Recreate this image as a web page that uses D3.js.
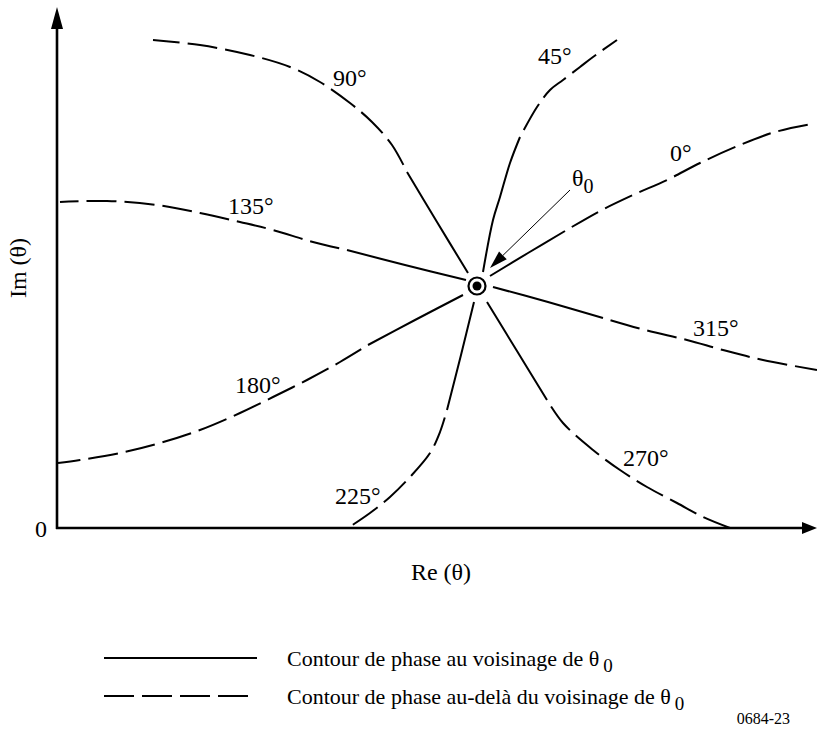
<!DOCTYPE html>
<html>
<head>
<meta charset="utf-8">
<script src="https://cdn.jsdelivr.net/npm/d3@7"></script>
<style>
  body { margin: 0; background: #fff; }
  text { font-family: "Liberation Serif", "Times New Roman", serif; fill: #000; }
</style>
</head>
<body>
<div class="chart"></div>
<script>
// Phase contours around theta0 in the (Re, Im) plane

// phase of each contour, same order as the point lists below
var phases = ["0°", "45°", "90°", "135°", "180°", "225°", "270°", "315°"];

// the point theta0
var theta0 = [420, 242];

// contour points close to theta0 (drawn solid), [Re, Im]
var nearContours = [
  [[433, 252], [471, 275], [508, 297]],
  [[426, 256], [436, 308], [443, 331], [453, 365], [463, 391]],
  [[411, 255], [380, 306], [350, 356]],
  [[409, 248], [348, 263], [290, 278]],
  [[406, 233], [358, 208], [311, 183]],
  [[417, 226], [404, 173], [390, 118]],
  [[430, 226], [460, 177], [490, 128]],
  [[436, 241], [491, 226], [546, 210]]
];

// contour points further out (drawn dashed), [Re, Im]
var farContours = [
  [[508, 297], [543, 317], [576, 333], [610, 348], [643, 365], [683, 383], [718, 396], [755, 404]],
  [[463, 391], [480, 421], [493, 438], [506, 448], [523, 461], [536, 471], [560, 488]],
  [[350, 356], [335, 383], [315, 406], [293, 425], [263, 446], [233, 461], [193, 473], [143, 483], [96, 488]],
  [[290, 278], [256, 286], [216, 298], [183, 306], [143, 315], [100, 323], [50, 327], [3, 326]],
  [[311, 183], [283, 166], [250, 148], [216, 131], [183, 115], [143, 98], [103, 85], [63, 75], [23, 68], [1, 65]],
  [[390, 118], [383, 96], [373, 75], [353, 51], [333, 31], [313, 15], [291, 0]],
  [[490, 128], [506, 105], [536, 78], [563, 58], [590, 41], [620, 25], [646, 11], [673, 0]],
  [[546, 210], [588, 198], [630, 188], [666, 178], [706, 168], [760, 158]]
];

// where each phase label sits, [Re, Im]
var labelAnchors = [[613, 367], [481, 464], [276, 442], [171, 314], [178, 135], [278, 24], [566, 62], [636, 192]];

// legend entries
var legendLabels = ["Contour de phase au voisinage de θ", "Contour de phase au-delà du voisinage de θ"];
var legendDashed = [false, true];

var svgWidth = 817;
var svgHeight = 731;

var margin = {
  top: 8,
  bottom: 203,
  right: 0,
  left: 57
};

var svg = d3.select(".chart")
  .append("svg")
  .attr("width", svgWidth)
  .attr("height", svgHeight);

// scales
var xScale = d3.scaleLinear()
  .domain([0, 760])
  .range([margin.left, svgWidth - margin.right]);

var yScale = d3.scaleLinear()
  .domain([0, 520])
  .range([svgHeight - margin.bottom, margin.top]);

var x0 = xScale(0);
var y0 = yScale(0);

// axes with arrow heads
svg.append("line")
  .attr("x1", x0).attr("y1", y0 + 1)
  .attr("x2", x0).attr("y2", yScale(520) + 18)
  .attr("stroke", "#000")
  .attr("stroke-width", 2.6);

svg.append("path")
  .attr("d", `M${x0},${yScale(520) - 1} L${x0 - 6},${yScale(520) + 21} L${x0 + 6},${yScale(520) + 21} Z`)
  .attr("fill", "#000");

svg.append("line")
  .attr("x1", x0 - 1).attr("y1", y0)
  .attr("x2", xScale(760) - 12).attr("y2", y0)
  .attr("stroke", "#000")
  .attr("stroke-width", 2.6);

svg.append("path")
  .attr("d", `M${xScale(760)},${y0} L${xScale(760) - 15},${y0 - 6} L${xScale(760) - 15},${y0 + 6} Z`)
  .attr("fill", "#000");

svg.append("text")
  .attr("x", x0 - 10)
  .attr("y", y0 + 9)
  .attr("text-anchor", "end")
  .attr("font-size", "24px")
  .text("0");

svg.append("text")
  .attr("x", (x0 + xScale(760)) / 2 + 4)
  .attr("y", y0 + 52)
  .attr("text-anchor", "middle")
  .attr("font-size", "24px")
  .text("Re (θ)");

svg.append("text")
  .attr("transform", `translate(26, ${(y0 + yScale(520)) / 2}) rotate(-90)`)
  .attr("text-anchor", "middle")
  .attr("font-size", "24px")
  .text("Im (θ)");

// contour lines
var line = d3.line()
  .x(d => xScale(d[0]))
  .y(d => yScale(d[1]))
  .curve(d3.curveCatmullRom.alpha(0.5));

svg.selectAll(".near")
  .data(nearContours)
  .enter()
  .append("path")
  .attr("class", "near")
  .attr("d", line)
  .attr("fill", "none")
  .attr("stroke", "#000")
  .attr("stroke-width", 2);

svg.selectAll(".far")
  .data(farContours)
  .enter()
  .append("path")
  .attr("class", "far")
  .attr("d", line)
  .attr("fill", "none")
  .attr("stroke", "#000")
  .attr("stroke-width", 2)
  .attr("stroke-dasharray", "30,8")
  .attr("stroke-dashoffset", 30);

svg.selectAll(".phase")
  .data(phases)
  .enter()
  .append("text")
  .attr("class", "phase")
  .attr("x", (d, i) => xScale(labelAnchors[i][0]))
  .attr("y", (d, i) => yScale(labelAnchors[i][1]))
  .attr("font-size", "24px")
  .text(d => d);

// theta0 marker
svg.append("circle")
  .attr("cx", xScale(theta0[0]))
  .attr("cy", yScale(theta0[1]))
  .attr("r", 8.5)
  .attr("fill", "#fff")
  .attr("stroke", "#000")
  .attr("stroke-width", 2.2);

svg.append("circle")
  .attr("cx", xScale(theta0[0]))
  .attr("cy", yScale(theta0[1]))
  .attr("r", 4.5)
  .attr("fill", "#000");

// pointer to theta0
var tip = [xScale(theta0[0] + 13), yScale(theta0[1] + 18)];
var tail = [xScale(theta0[0] + 93), yScale(theta0[1] + 96)];
var ang = Math.atan2(tail[1] - tip[1], tail[0] - tip[0]);
var headLen = 18, headHalf = 5.5;
var bx = tip[0] + headLen * Math.cos(ang), by = tip[1] + headLen * Math.sin(ang);

svg.append("line")
  .attr("x1", tail[0]).attr("y1", tail[1])
  .attr("x2", bx).attr("y2", by)
  .attr("stroke", "#000")
  .attr("stroke-width", 1);

svg.append("path")
  .attr("d", `M${tip[0]},${tip[1]} L${bx - headHalf * Math.sin(ang)},${by + headHalf * Math.cos(ang)} L${bx + headHalf * Math.sin(ang)},${by - headHalf * Math.cos(ang)} Z`)
  .attr("fill", "#000");

var thetaLabel = svg.append("text")
  .attr("x", tail[0] + 2)
  .attr("y", tail[1] - 4)
  .attr("font-size", "24px");
thetaLabel.append("tspan").text("θ");
thetaLabel.append("tspan").attr("dy", 7).attr("font-size", "20px").text("0");

// legend
var legend = svg.append("g")
  .attr("transform", "translate(104, 658)");

var rows = legend.selectAll("g")
  .data(legendLabels)
  .enter()
  .append("g")
  .attr("transform", (d, i) => `translate(0, ${i * 38})`);

rows.append("line")
  .attr("x1", 0).attr("x2", (d, i) => legendDashed[i] ? 150 : 153)
  .attr("y1", 0).attr("y2", 0)
  .attr("stroke", "#000")
  .attr("stroke-width", 2)
  .attr("stroke-dasharray", (d, i) => legendDashed[i] ? "30,8" : null);

var rowText = rows.append("text")
  .attr("x", 183)
  .attr("y", 8)
  .attr("font-size", "22px");
rowText.append("tspan").text(d => d);
rowText.append("tspan").attr("dx", 4).attr("dy", 6).attr("font-size", "19px").text("0");

svg.append("text")
  .attr("x", 790)
  .attr("y", 724)
  .attr("text-anchor", "end")
  .attr("font-size", "16px")
  .text("0684-23");
</script>
</body>
</html>
